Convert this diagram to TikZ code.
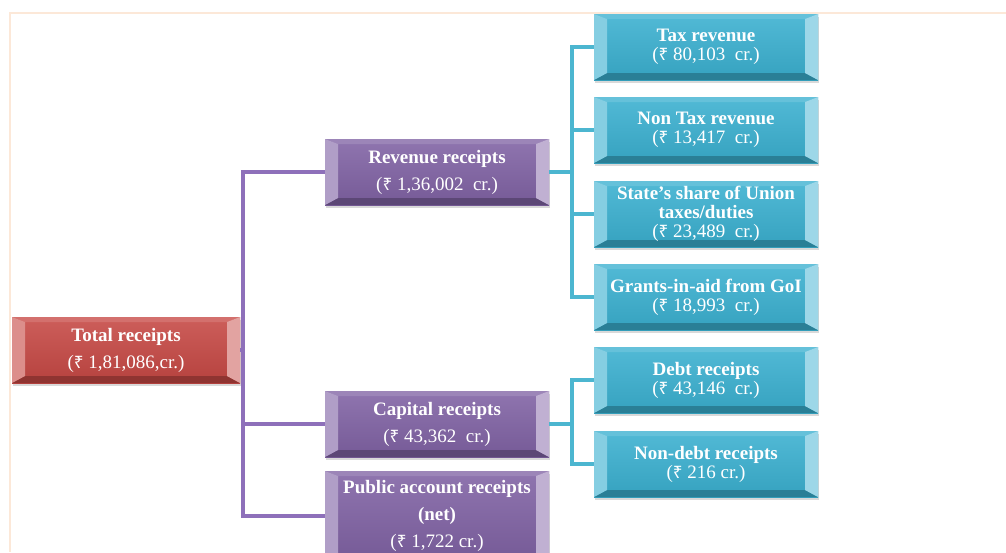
\documentclass[tikz,border=0pt]{standalone}
\usepackage{fontspec}
\setmainfont{Liberation Serif}
\newfontfamily\rupeefont[Scale = 0.9]{Noto Sans}
\usetikzlibrary{calc, shadows}

\newcommand{\rupee}{{\rupeefont ₹}}

\definecolor{totalred}{RGB}{198, 72, 68}
\definecolor{headpurple}{RGB}{128, 98, 164}
\definecolor{partteal}{RGB}{58, 176, 208}
\definecolor{purplelink}{RGB}{142, 112, 186}
\definecolor{teallink}{RGB}{76, 182, 208}
\definecolor{framepeach}{RGB}{252, 232, 216}

\tikzset{
	bevel/.style = {
		top color = #1!88!white, bottom color = #1!92!black, text = white, inner sep = 0pt, align = center,
		minimum width = 224pt, minimum height = 66pt,
		drop shadow = {shadow xshift = 1pt, shadow yshift = -3pt, opacity = 0.3},
		path picture = {
			\coordinate (bnw) at (path picture bounding box.north west) ;
			\coordinate (bne) at (path picture bounding box.north east) ;
			\coordinate (bsw) at (path picture bounding box.south west) ;
			\coordinate (bse) at (path picture bounding box.south east) ;
			\fill [#1!78!white] (bnw) -- (bne) -- ($(bne) + (-13pt, -5pt)$) -- ($(bnw) + (13pt, -5pt)$) -- cycle ;
			\fill [#1!72!black] (bsw) -- (bse) -- ($(bse) + (-13pt, 7pt)$) -- ($(bsw) + (13pt, 7pt)$) -- cycle ;
			\fill [#1!62!white] (bnw) -- (bsw) -- ($(bsw) + (13pt, 7pt)$) -- ($(bnw) + (13pt, -5pt)$) -- cycle ;
			\fill [#1!50!white] (bne) -- (bse) -- ($(bse) + (-13pt, 7pt)$) -- ($(bne) + (-13pt, -5pt)$) -- cycle ;
		}
	},
	head/.style = {bevel = #1, font = \fontsize{19}{27}\selectfont},
	part/.style = {bevel = #1, font = \fontsize{19}{19}\selectfont},
	link/.style = {draw = #1, line width = 4pt},
}

\begin{document}
\begin{tikzpicture} [x = 1pt, y = -1pt]
	\useasboundingbox (0, 0) rectangle (1006, 552) ;
	\draw [framepeach, line width = 2pt] (10, 552) -- (10, 12.5) -- (1006, 12.5) ;

	\node [head = totalred, minimum width = 228pt] (total) at (126, 350) {\textbf{Total receipts}\\(\rupee{} 1,81,086,cr.)} ;

	\node [head = headpurple] (rev) at (437, 172) {\textbf{Revenue receipts}\\(\rupee{} 1,36,002~ cr.)} ;
	\node [head = headpurple] (cap) at (437, 424) {\textbf{Capital receipts}\\(\rupee{} 43,362~ cr.)} ;
	\node [head = headpurple, minimum height = 90pt] (pub) at (437, 516) {\textbf{Public account receipts}\\\textbf{(net)}\\(\rupee{} 1,722 cr.)} ;

	\node [part = partteal] (tax) at (706, 47) {\textbf{Tax revenue}\\(\rupee{} 80,103~ cr.)} ;
	\node [part = partteal] (nontax) at (706, 130) {\textbf{Non Tax revenue}\\(\rupee{} 13,417~ cr.)} ;
	\node [part = partteal] (share) at (706, 214) {\textbf{State's share of Union}\\\textbf{taxes/duties}\\(\rupee{} 23,489~ cr.)} ;
	\node [part = partteal] (grant) at (706, 297) {\textbf{Grants-in-aid from GoI}\\(\rupee{} 18,993~ cr.)} ;
	\node [part = partteal] (debt) at (706, 380) {\textbf{Debt receipts}\\(\rupee{} 43,146~ cr.)} ;
	\node [part = partteal] (nondebt) at (706, 464) {\textbf{Non-debt receipts}\\(\rupee{} 216 cr.)} ;

	\coordinate (jt) at ($(total.east) + (3, 0)$) ;
	\coordinate (jr) at ($(rev.east) + (23, 0)$) ;
	\coordinate (jc) at ($(cap.east) + (23, 0)$) ;

	\draw [link = purplelink] (total.east) -- (jt) ;
	\draw [link = purplelink] (rev.west) -| (jt |- rev.west) |- (pub.west) ;
	\draw [link = purplelink] (jt |- cap.west) -- (cap.west) ;

	\draw [link = teallink] (rev.east) -- (jr) ;
	\draw [link = teallink] (tax.west) -| (jr |- tax.west) |- (grant.west) ;
	\draw [link = teallink] (jr |- nontax.west) -- (nontax.west) ;
	\draw [link = teallink] (jr |- share.west) -- (share.west) ;

	\draw [link = teallink] (cap.east) -- (jc) ;
	\draw [link = teallink] (debt.west) -| (jc |- debt.west) |- (nondebt.west) ;
\end{tikzpicture}
\end{document}
